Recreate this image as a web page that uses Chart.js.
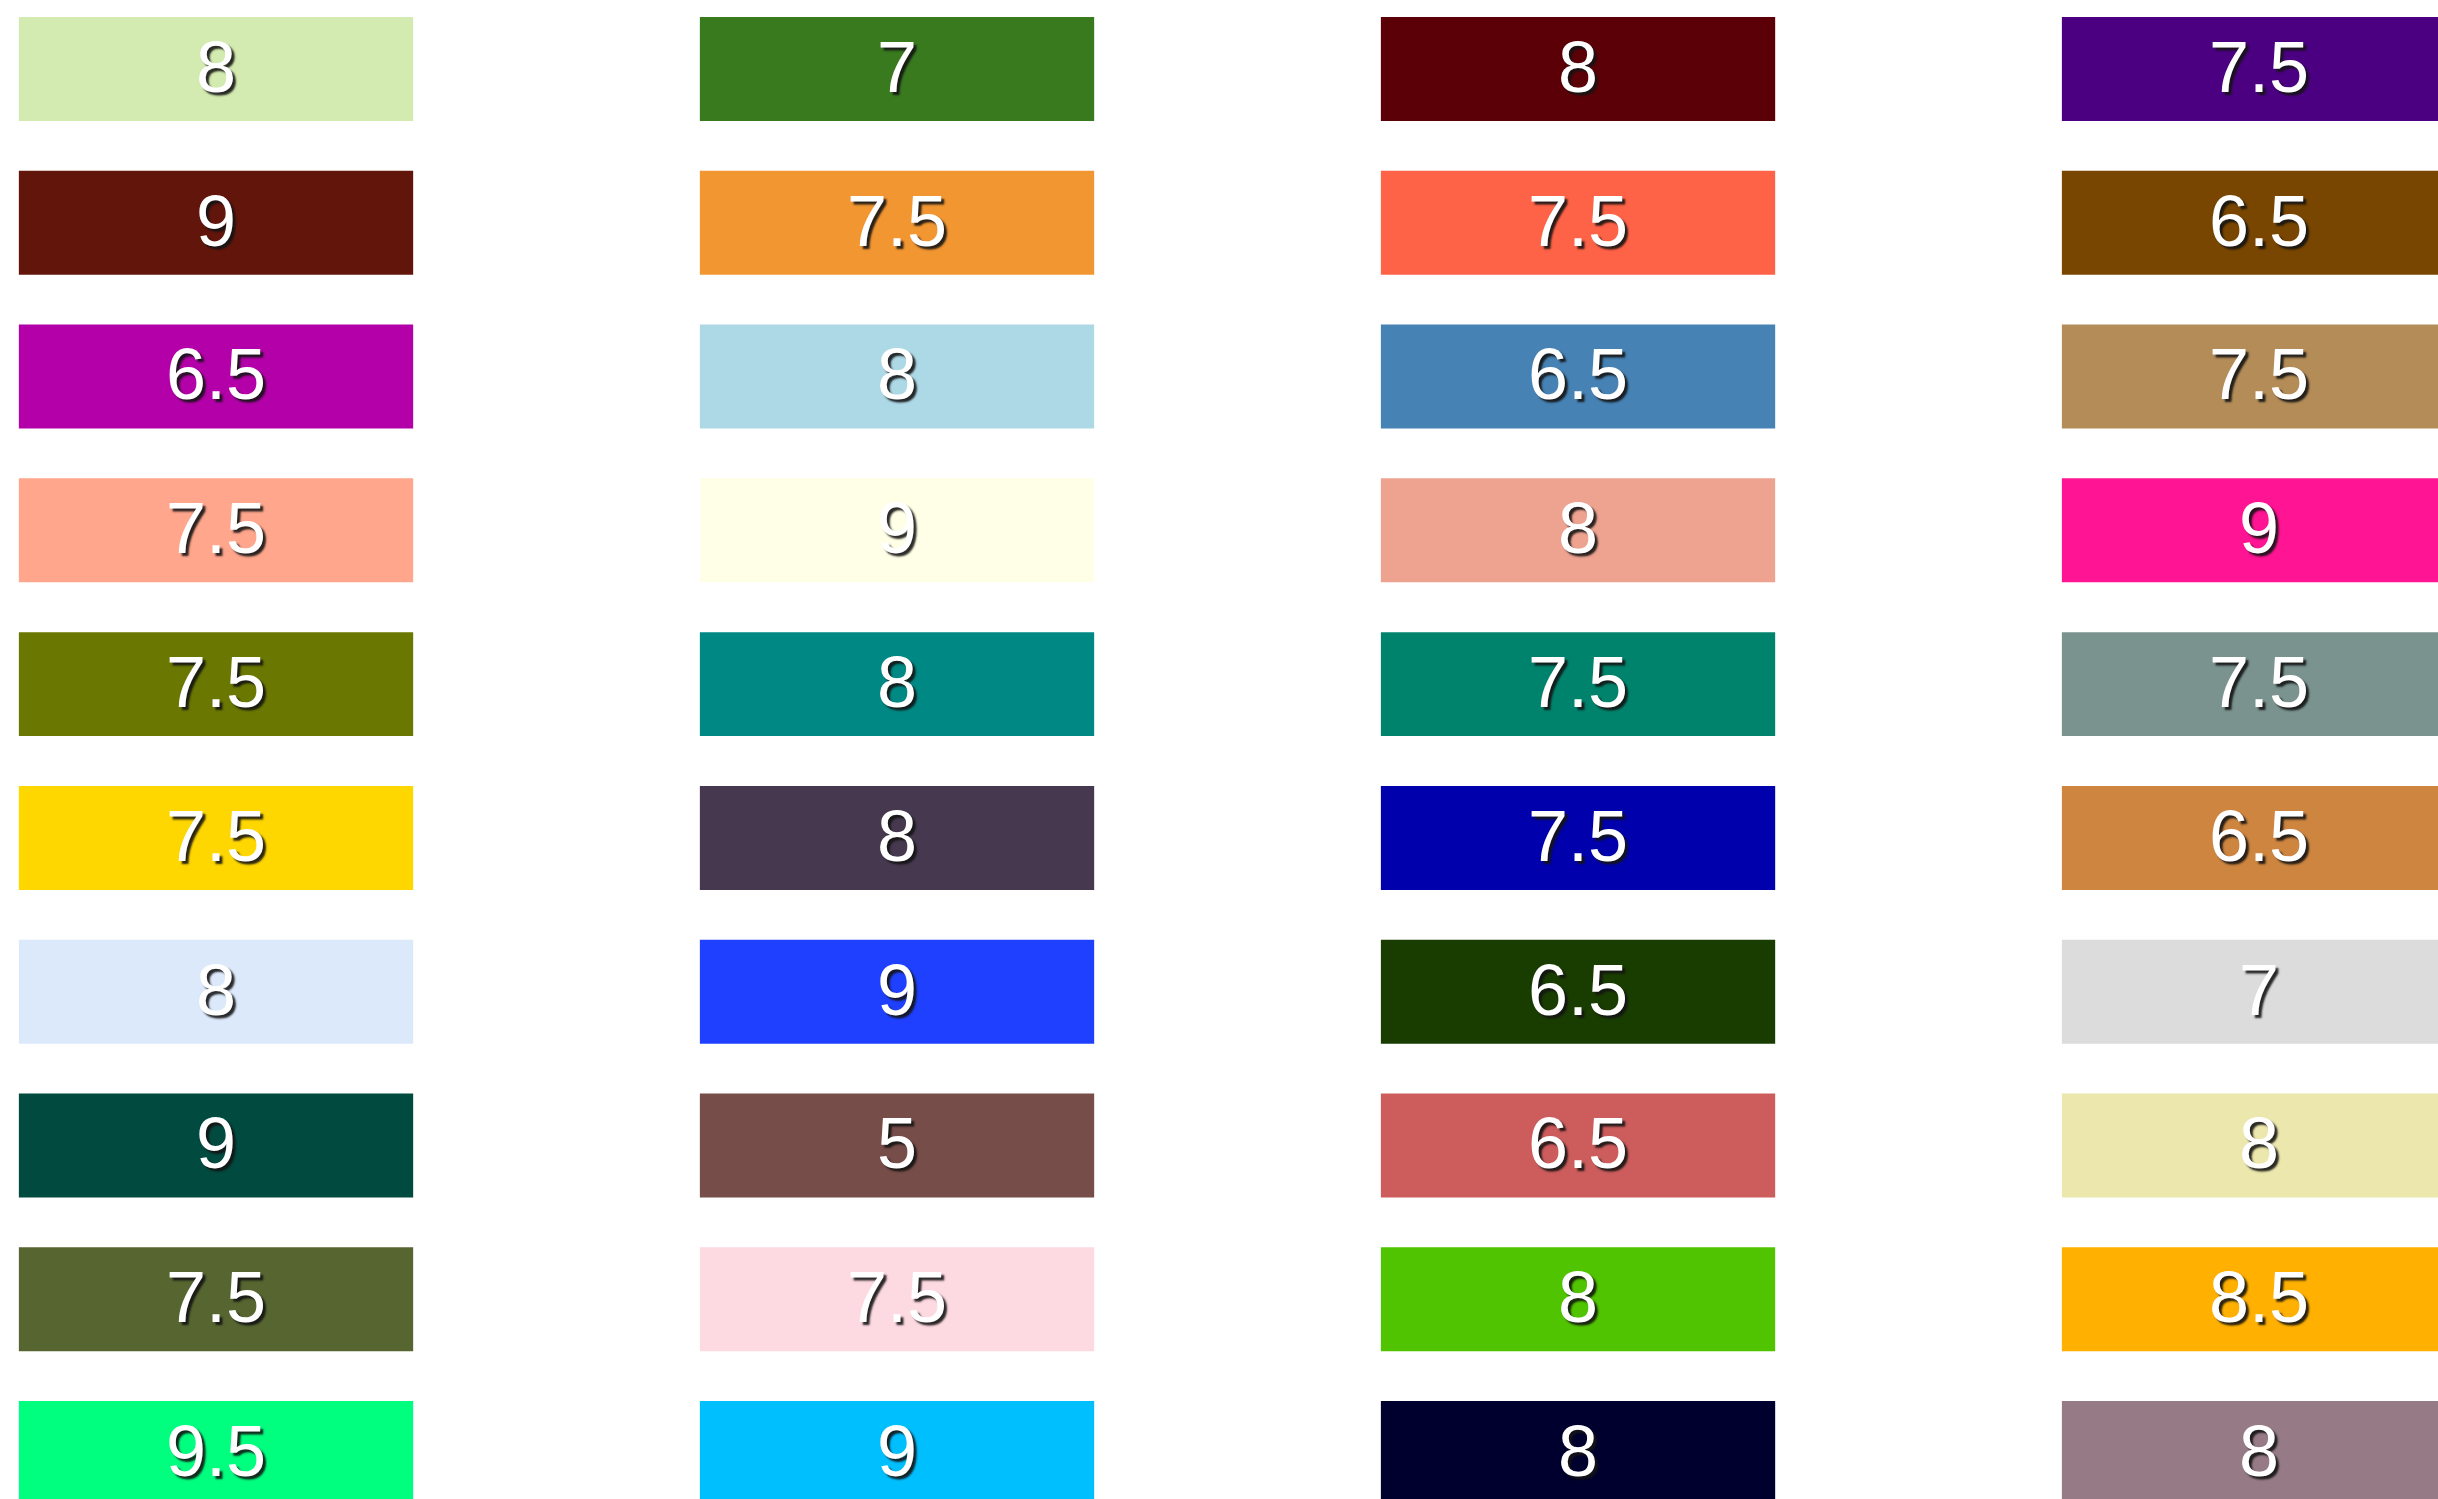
<!DOCTYPE html>
<html>
<head>
<meta charset="utf-8">
<script src="https://cdn.jsdelivr.net/npm/chart.js@4.4.1/dist/chart.umd.min.js"></script>
<style>
  html, body { margin: 0; padding: 0; background: #ffffff; overflow: hidden; }
  #wrap { width: 2438px; height: 1499px; }
</style>
</head>
<body>
<div id="wrap"><canvas id="gridChart"></canvas></div>
<script>
// one array per column, top row first
var columns = [0, 1, 2, 3];
var rows = [0, 1, 2, 3, 4, 5, 6, 7, 8, 9];

var col1Values = [8, 9, 6.5, 7.5, 7.5, 7.5, 8, 9, 7.5, 9.5];
var col2Values = [7, 7.5, 8, 9, 8, 8, 9, 5, 7.5, 9];
var col3Values = [8, 7.5, 6.5, 8, 7.5, 7.5, 6.5, 6.5, 8, 8];
var col4Values = [7.5, 6.5, 7.5, 9, 7.5, 6.5, 7, 8, 8.5, 8];

var col1Colors = ['#d3ebb0', '#62150b', '#b300a8', '#ffa68c', '#6a7700', '#ffd700', '#dbe9fa', '#004a3f', '#576630', '#00ff7f'];
var col2Colors = ['#397a1f', '#f29632', '#add8e6', '#fffee6', '#008984', '#46394f', '#1f40ff', '#774d49', '#fdd9e1', '#00bfff'];
var col3Colors = ['#5c0008', '#ff6347', '#4682b4', '#eea391', '#00836c', '#0000ac', '#193d00', '#cd5c5c', '#50c400', '#00002e'];
var col4Colors = ['#4b0082', '#784600', '#b38c58', '#ff1493', '#7a938f', '#cd853f', '#dcdcdc', '#ece7ac', '#ffb000', '#967b86'];

var allValues = [col1Values, col2Values, col3Values, col4Values];
var allColors = [col1Colors, col2Colors, col3Colors, col4Colors];

var cellHalf = 0.338;

var datasets = columns.map(function (c) {
    return {
        label: 'Column ' + (c + 1),
        data: rows.map(function (r) {
            return { x: c, y: [r - cellHalf, r + cellHalf], v: allValues[c][r] };
        }),
        backgroundColor: allColors[c],
        borderWidth: 0,
        grouped: false,
        barPercentage: 0.579,
        categoryPercentage: 1
    };
});

var cellLabels = {
    id: 'cellLabels',
    afterDatasetsDraw: function (chart) {
        var ctx = chart.ctx;
        ctx.save();
        ctx.font = '72px "Liberation Sans", Arial, sans-serif';
        ctx.textAlign = 'center';
        ctx.textBaseline = 'middle';
        chart.data.datasets.forEach(function (ds, i) {
            chart.getDatasetMeta(i).data.forEach(function (bar, j) {
                var pos = bar.getCenterPoint();
                ctx.shadowColor = 'rgba(20, 20, 20, 0.9)';
                ctx.shadowOffsetX = 3;
                ctx.shadowOffsetY = 3;
                ctx.shadowBlur = 2;
                ctx.fillStyle = '#ffffff';
                ctx.fillText(String(ds.data[j].v), pos.x, pos.y + 3);
            });
        });
        ctx.restore();
    }
};

new Chart(document.getElementById('gridChart').getContext('2d'), {
    type: 'bar',
    data: { datasets: datasets },
    options: {
        responsive: true,
        maintainAspectRatio: false,
        animation: false,
        layout: { padding: 0 },
        plugins: {
            legend: { display: false },
            tooltip: { enabled: false }
        },
        scales: {
            x: {
                type: 'linear',
                display: false,
                offset: false,
                grid: { offset: false },
                min: -0.3172,
                max: 3.2628,
                ticks: { stepSize: 1, includeBounds: false },
                afterBuildTicks: function (scale) {
                    scale.ticks = columns.map(function (c) { return { value: c }; });
                }
            },
            y: {
                type: 'linear',
                display: false,
                reverse: true,
                min: -0.4487,
                max: 9.2988
            }
        }
    },
    plugins: [cellLabels]
});
</script>
</body>
</html>
